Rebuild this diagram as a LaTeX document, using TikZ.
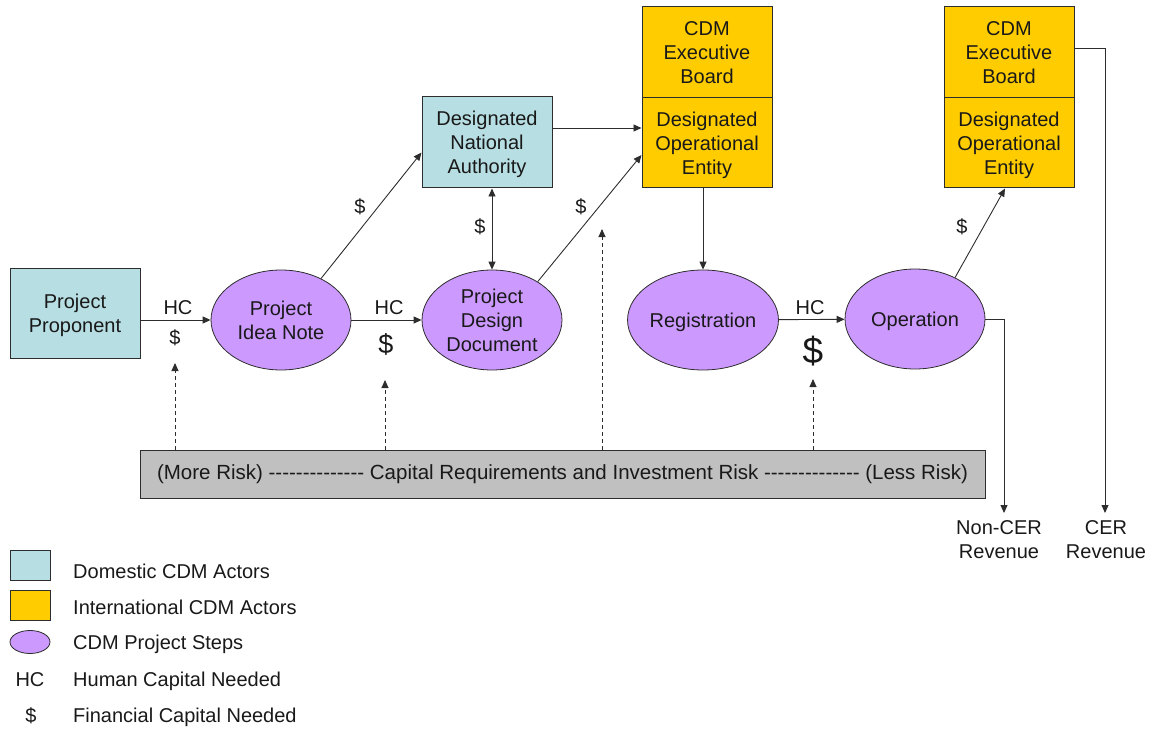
\documentclass[tikz,border=0pt]{standalone}
\usepackage{fontspec}
\setmainfont{Liberation Sans}
\usetikzlibrary{shapes.geometric, arrows.meta, positioning, calc}
\definecolor{domestic}{RGB}{183,222,226}
\definecolor{intl}{RGB}{255,204,0}
\definecolor{stepviolet}{RGB}{204,153,255}
\definecolor{riskgray}{RGB}{192,192,192}
\definecolor{linegray}{RGB}{45,45,45}
\newcommand\lbl{\fontsize{20}{24}\selectfont}
\newcommand\dashes{\foreach \k in {1,...,14}{-\kern0pt}}

\begin{document}
\begin{tikzpicture}[
    x=1pt, y=-1pt,
    actor/.style={
        rectangle,
        draw=linegray,
        fill=#1,
        line width=1pt,
        minimum width=130pt,
        minimum height=90pt,
        text depth=0pt,
        align=center,
        text=black!90,
        font=\lbl
    },
    stage/.style={
        ellipse,
        draw=linegray,
        fill=stepviolet,
        line width=0.8pt,
        minimum width=140pt,
        minimum height=100pt,
        inner sep=0pt,
        text depth=0pt,
        align=center,
        text=black!90,
        font=\lbl
    },
    note/.style={
        inner sep=0pt,
        align=center,
        text=black!90,
        font=\lbl
    },
    arrow/.style={
        -{Triangle[length=8pt,width=7pt]},
        line width=0.9pt,
        draw=linegray
    },
    biarrow/.style={
        {Triangle[length=8pt,width=7pt]}-{Triangle[length=8pt,width=7pt]},
        line width=0.9pt,
        draw=linegray
    },
    dasharrow/.style={
        -{Triangle[length=8pt,width=7pt]},
        line width=0.9pt,
        dash pattern=on 4pt off 3pt,
        draw=linegray
    }
]
\useasboundingbox (0,0) rectangle (1156,730);

% Actors
\node[actor=domestic] (pp) at (75,313) {Project\\Proponent};
\node[actor=domestic, minimum height=91pt] (dna) at (487,142.5) {Designated\\National\\Authority};
\node[actor=intl, minimum height=91pt] (eb1) at (707,52.5) {CDM\\Executive\\Board};
\node[actor=intl] (doe1) at (707,143) {Designated\\Operational\\Entity};
\node[actor=intl, minimum height=91pt] (eb2) at (1009,52.5) {CDM\\Executive\\Board};
\node[actor=intl] (doe2) at (1009,143) {Designated\\Operational\\Entity};

% Project steps
\node[stage] (pin) at (281,320) {Project\\Idea Note};
\node[stage] (pdd) at (492,320) {Project\\Design\\Document};
\node[stage] (reg) at (703,320) {Registration};
\node[stage] (op) at (915,319) {Operation};

% Risk bar
\node[rectangle, draw=linegray, fill=riskgray, line width=1pt,
      minimum width=845pt, minimum height=48pt, text=black!90,
      font=\fontsize{20.5}{24}\selectfont]
      (risk) at (562.5,474)
      {(More Risk) \dashes{} Capital Requirements and Investment Risk \dashes{} (Less Risk)};

% Capital labels
\node[note] (hc1) at (178,308) {HC};
\node[note] (usd1) at (175,338) {\$};
\node[note] (hc2) at (389,308) {HC};
\node[note, font=\fontsize{27}{30}\selectfont] (usd2) at (386,344) {\$};
\node[note] (hc3) at (810,308) {HC};
\node[note, font=\fontsize{37}{40}\selectfont] (usd3) at (813,351) {\$};
\node[note] (usd4) at (360,207) {\$};
\node[note] (usd5) at (480,227) {\$};
\node[note] (usd6) at (581,207) {\$};
\node[note] (usd7) at (962,227) {\$};

% Flow
\draw[arrow] (pp.east |- pin.west) -- (pin.west);
\draw[arrow] (pin) -- (pdd);
\draw[arrow] (pin.46) -- ([yshift=-10pt]dna.west);
\draw[biarrow] (pdd.north) -- (pdd.north |- dna.south);
\draw[arrow] ([yshift=14.5pt]dna.east) -- ([yshift=14.5pt]dna.east -| doe1.west);
\draw[arrow] (pdd.40) -- ([yshift=-12pt]doe1.west);
\draw[arrow] (doe1.south -| reg.north) -- (reg.north);
\draw[arrow] (reg) -- (op);
\draw[arrow] (op.46) -- ([xshift=-4pt]doe2.south);

% Revenue
\coordinate (ncer) at (1004,513);
\coordinate (cer) at (1105,513);
\draw[arrow] (op.east) -| (ncer);
\draw[arrow] ([yshift=4.5pt]eb2.east) -| (cer);
\node[note] (ncerlbl) at (999,540) {Non-CER\\Revenue};
\node[note] (cerlbl) at (1106,540) {CER\\Revenue};

% Risk pointers
\coordinate (r1) at (175,363);
\coordinate (r2) at (385,380);
\coordinate (r3) at (602,229);
\coordinate (r4) at (813,379);
\foreach \r in {r1,r2,r3,r4}
    \draw[dasharrow] (risk.north -| \r) -- (\r);

% Legend
\node[actor=domestic, minimum width=40pt, minimum height=30pt] (keydom) at (30,565) {};
\node[actor=intl, minimum width=40pt, minimum height=30pt] (keyint) at (30,605) {};
\node[stage, minimum width=40pt, minimum height=23pt] (keystep) at (30,642) {};
\node[note] (keyhc) at (30,680) {HC};
\node[note] (keyusd) at (31,716) {\$};
\node[note, anchor=west] (txtdom) at (73,571) {Domestic CDM Actors};
\node[note, anchor=west] (txtint) at (73,607) {International CDM Actors};
\node[note, anchor=west] (txtstep) at (73,644) {CDM Project Steps};
\node[note, anchor=west] (txthc) at (73,681) {Human Capital Needed};
\node[note, anchor=west] (txtusd) at (73,717) {Financial Capital Needed};

\end{tikzpicture}
\end{document}
